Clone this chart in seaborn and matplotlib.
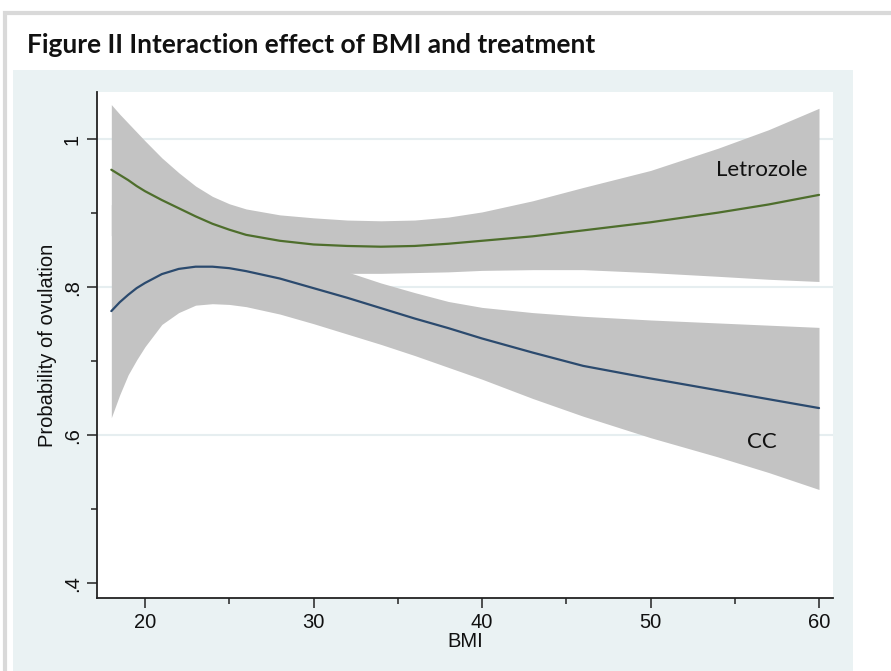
import numpy as np
import pandas as pd
import matplotlib
matplotlib.use("Agg")
import matplotlib.pyplot as plt
from matplotlib.patches import Rectangle
import seaborn as sns

# ---- data ----
bmi = [18, 18.5, 19, 19.5, 20, 21, 22, 23, 24, 25, 26, 28, 30, 32, 34, 36, 38, 40, 43, 46, 50, 54, 57, 60]

letrozole_fit = [0.959, 0.952, 0.945, 0.937, 0.930, 0.918, 0.907, 0.896, 0.886, 0.878, 0.871, 0.863, 0.858, 0.856,
                 0.855, 0.856, 0.859, 0.863, 0.869, 0.877, 0.888, 0.901, 0.912, 0.925]
letrozole_hi = [1.047, 1.034, 1.022, 1.010, 0.998, 0.975, 0.955, 0.937, 0.923, 0.913, 0.906, 0.898, 0.894, 0.891,
                0.890, 0.891, 0.895, 0.902, 0.917, 0.935, 0.958, 0.988, 1.013, 1.042]
letrozole_lo = [0.870, 0.869, 0.868, 0.865, 0.862, 0.855, 0.848, 0.842, 0.836, 0.832, 0.829, 0.824, 0.821, 0.819,
                0.819, 0.820, 0.821, 0.823, 0.824, 0.824, 0.820, 0.815, 0.811, 0.808]

cc_fit = [0.768, 0.780, 0.790, 0.799, 0.806, 0.818, 0.825, 0.828, 0.828, 0.826, 0.822, 0.812, 0.799, 0.786,
          0.772, 0.758, 0.745, 0.731, 0.712, 0.694, 0.677, 0.661, 0.649, 0.637]
cc_hi = [0.912, 0.900, 0.890, 0.880, 0.870, 0.860, 0.855, 0.852, 0.850, 0.848, 0.845, 0.838, 0.830, 0.821,
         0.806, 0.793, 0.781, 0.773, 0.766, 0.761, 0.756, 0.752, 0.749, 0.746]
cc_lo = [0.624, 0.655, 0.682, 0.702, 0.720, 0.750, 0.766, 0.776, 0.778, 0.777, 0.774, 0.764, 0.751, 0.737,
         0.723, 0.708, 0.692, 0.676, 0.650, 0.626, 0.597, 0.571, 0.550, 0.527]

treatments = ["Letrozole", "CC"]
title = "Figure II Interaction effect of BMI and treatment"
x_ticks = [20, 30, 40, 50, 60]
y_ticks = [0.4, 0.6, 0.8, 1.0]
y_ticklabels = [".4", ".6", ".8", "1"]

# ---- styling ----
sns.set_style("white")
plt.rcParams["font.family"] = ["Liberation Sans", "DejaVu Sans"]

W, H = 891, 671
fig = plt.figure(figsize=(W / 100, H / 100), dpi=100)
fig.patch.set_facecolor("white")

def fx(px):
    return px / W

def fy(py):
    return 1 - py / H

# outer gray frame
fig.patches.append(Rectangle((fx(5), fy(H + 20)), fx(W + 20) - fx(5), fy(13) - fy(H + 20),
                             transform=fig.transFigure, facecolor="none",
                             edgecolor="#D9D9D9", lw=3.0, zorder=-10))
# light blue-gray graph region
fig.patches.append(Rectangle((fx(13), fy(H + 5)), fx(853) - fx(13), fy(70) - fy(H + 5),
                             transform=fig.transFigure, facecolor="#EAF2F3",
                             edgecolor="none", zorder=-10))

fig.text(fx(27), fy(45), title, fontsize=19.0, fontweight="bold",
         family=["Lato", "DejaVu Sans"], ha="left", va="center", color="#111111")

ax = fig.add_axes([fx(97), fy(598), fx(833) - fx(97), fy(92) - fy(598)])
ax.set_zorder(5)
ax.set_facecolor("white")

# confidence bands
ax.fill_between(bmi, letrozole_lo, letrozole_hi, color="#C3C3C3", lw=0, zorder=1)
ax.fill_between(bmi, cc_lo, cc_hi, color="#C3C3C3", lw=0, zorder=1)

# fitted lines via seaborn
df = pd.DataFrame({
    "BMI": bmi * 2,
    "prob": letrozole_fit + cc_fit,
    "treatment": [treatments[0]] * len(bmi) + [treatments[1]] * len(bmi),
})
sns.lineplot(data=df, x="BMI", y="prob", hue="treatment",
             palette={"Letrozole": "#4E6E2C", "CC": "#2B4A6E"},
             linewidth=1.6, legend=False, ax=ax, zorder=3, sort=False)

ax.set_xlim(17.15, 60.83)
ax.set_ylim(0.3804, 1.064)

# gridlines
for yv in [0.6, 0.8, 1.0]:
    ax.axhline(yv, color="#E6EEF0", lw=1.5, zorder=0.5)

ax.set_xticks(x_ticks)
ax.set_xticks([25, 35, 45, 55], minor=True)
ax.set_yticks(y_ticks)
ax.set_yticklabels(y_ticklabels)
ax.set_yticks([0.5, 0.7, 0.9], minor=True)
ax.tick_params(axis="both", which="both", bottom=True, left=True, top=False, right=False)
ax.tick_params(axis="both", which="major", direction="out", length=7, width=1.1,
               color="#222222", labelsize=14.5, labelcolor="#111111", pad=4)
ax.tick_params(axis="both", which="minor", direction="out", length=4, width=1.1,
               color="#222222")
for lab in ax.get_yticklabels():
    lab.set_rotation(90)
    lab.set_va("center")

ax.set_xlabel("BMI", fontsize=14.5, color="#111111", labelpad=0)
ax.set_ylabel("Probability of ovulation", fontsize=14.5, color="#111111", labelpad=4)

for s in ["top", "right"]:
    ax.spines[s].set_visible(False)
for s in ["left", "bottom"]:
    ax.spines[s].set_color("#222222")
    ax.spines[s].set_linewidth(1.3)

ax.text(59.3, 0.959, "Letrozole", fontsize=16, family=["Lato", "DejaVu Sans"],
        ha="right", va="center", color="#111111", zorder=4)
ax.text(56.6, 0.591, "CC", fontsize=16, family=["Lato", "DejaVu Sans"],
        ha="center", va="center", color="#111111", zorder=4)

fig.savefig("out.png", dpi=100, facecolor="white")
